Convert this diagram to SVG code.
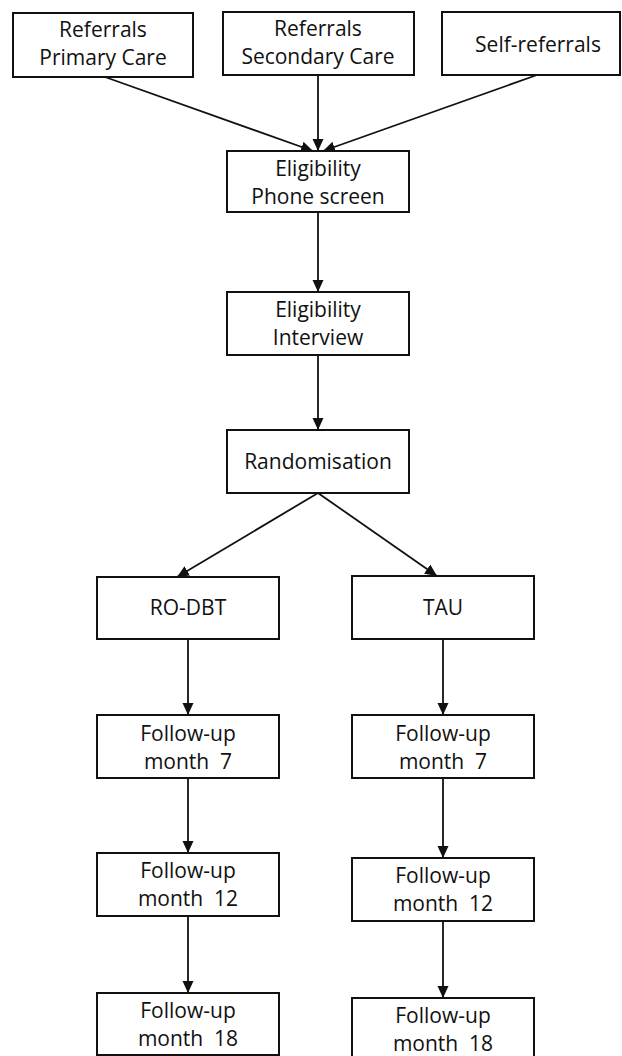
<svg xmlns="http://www.w3.org/2000/svg" width="622" height="1056" viewBox="0 0 622 1056">
<style>
rect.box{fill:#fff;stroke:#111;stroke-width:2}
text{font-family:"Open Sans","Noto Sans","DejaVu Sans",sans-serif;font-size:21px;fill:#111;text-anchor:middle;white-space:pre}
.conn line{stroke:#111;stroke-width:1.8;marker-end:url(#ah)}
</style>
<defs>
<marker id="ah" markerUnits="userSpaceOnUse" markerWidth="12" markerHeight="12" viewBox="0 0 12 12" refX="12" refY="6" orient="auto">
<path d="M0,0.5 L12,6 L0,11.5 Z" fill="#111"/>
</marker>
</defs>
<rect width="622" height="1056" fill="#fff"/>
<g class="conn" id="connectors">
<line x1="105" y1="77" x2="313" y2="151"/>
<line x1="318" y1="75" x2="318" y2="151"/>
<line x1="537" y1="75" x2="323" y2="151"/>
<line x1="318" y1="212" x2="318" y2="292"/>
<line x1="318" y1="355" x2="318" y2="430"/>
<line x1="318" y1="493" x2="177" y2="577"/>
<line x1="318" y1="493" x2="437" y2="576"/>
<line x1="188" y1="639" x2="188" y2="715"/>
<line x1="188" y1="778" x2="188" y2="853"/>
<line x1="188" y1="916" x2="188" y2="993"/>
<line x1="443" y1="639" x2="443" y2="715"/>
<line x1="443" y1="778" x2="443" y2="858"/>
<line x1="443" y1="921" x2="443" y2="998"/>
</g>
<g id="n_primary"><rect class="box" x="13" y="13" width="180" height="64"/><text x="103" y="37">Referrals</text><text x="103" y="65">Primary Care</text></g>
<g id="n_secondary"><rect class="box" x="223" y="12" width="191" height="63"/><text x="318" y="36">Referrals</text><text x="318" y="64">Secondary Care</text></g>
<g id="n_self"><rect class="box" x="442" y="12" width="178" height="63"/><text x="538" y="52">Self-referrals</text></g>
<g id="n_phone"><rect class="box" x="227" y="151" width="182" height="61"/><text x="318" y="176">Eligibility</text><text x="318" y="204">Phone screen</text></g>
<g id="n_interview"><rect class="box" x="227" y="292" width="182" height="63"/><text x="318" y="317">Eligibility</text><text x="318" y="345">Interview</text></g>
<g id="n_random"><rect class="box" x="227" y="430" width="182" height="63"/><text x="318" y="469">Randomisation</text></g>
<g id="n_rodbt"><rect class="box" x="97" y="577" width="182" height="62"/><text x="188" y="615">RO-DBT</text></g>
<g id="n_tau"><rect class="box" x="352" y="576" width="182" height="63"/><text x="443" y="615">TAU</text></g>
<g id="n_l7"><rect class="box" x="97" y="715" width="182" height="63"/><text x="188" y="741">Follow-up</text><text x="188" y="769">month  7</text></g>
<g id="n_r7"><rect class="box" x="352" y="715" width="182" height="63"/><text x="443" y="741">Follow-up</text><text x="443" y="769">month  7</text></g>
<g id="n_l12"><rect class="box" x="97" y="853" width="182" height="63"/><text x="188" y="878">Follow-up</text><text x="188" y="906">month  12</text></g>
<g id="n_r12"><rect class="box" x="352" y="858" width="182" height="63"/><text x="443" y="883">Follow-up</text><text x="443" y="911">month  12</text></g>
<g id="n_l18"><rect class="box" x="97" y="993" width="182" height="62"/><text x="188" y="1018">Follow-up</text><text x="188" y="1046">month  18</text></g>
<g id="n_r18"><rect class="box" x="352" y="998" width="182" height="63"/><text x="443" y="1023">Follow-up</text><text x="443" y="1051">month  18</text></g>
</svg>
